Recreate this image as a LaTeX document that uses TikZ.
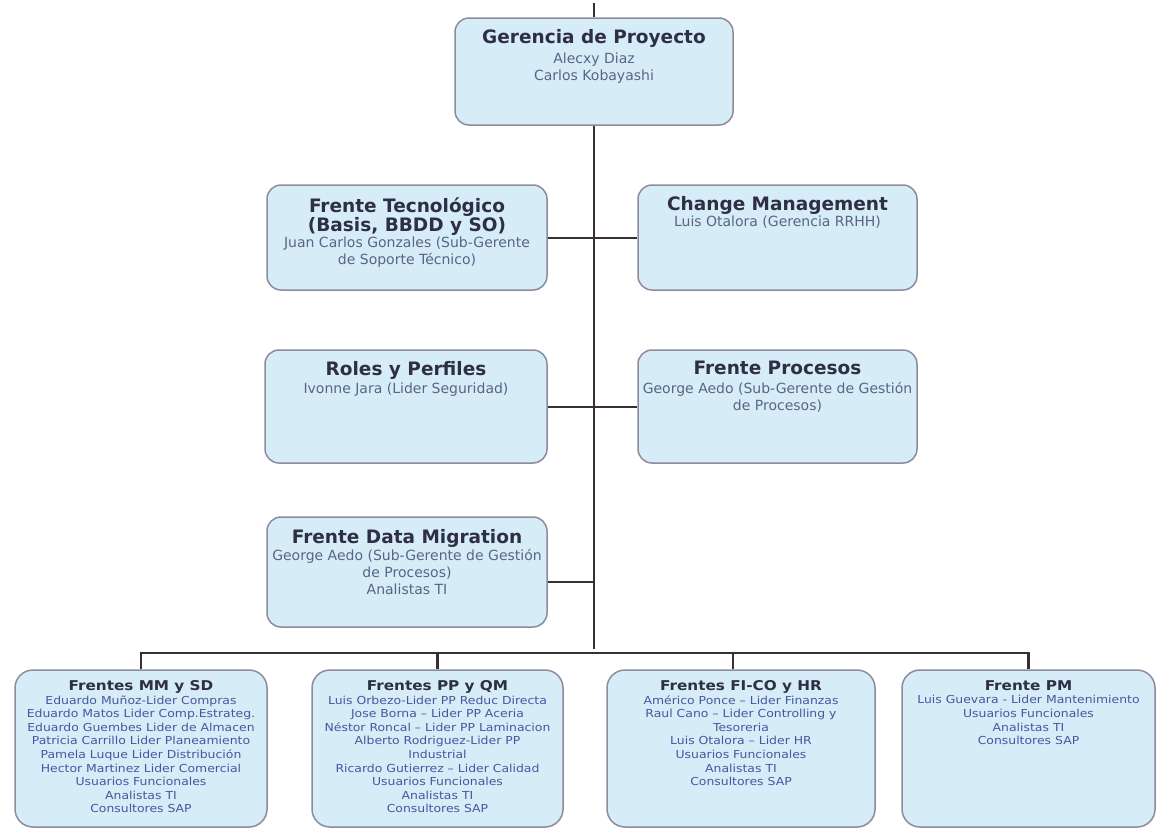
\documentclass[tikz,border=0pt]{standalone}
\usepackage{fontspec}
\setmainfont{DejaVu Sans}
\newfontfamily\widefont[FakeStretch=1.13]{DejaVu Sans}
\definecolor{boxfill}{HTML}{D6EDF8}
\definecolor{boxline}{HTML}{8C8C9C}
\definecolor{titlec}{HTML}{2E2E45}
\definecolor{bodyc}{HTML}{5A6485}
\definecolor{smallc}{HTML}{4A55A0}
\definecolor{linkc}{HTML}{382E36}
\newcommand\ttl[1]{{\fontsize{18.5}{20}\selectfont\bfseries\color{titlec}#1}}
\newcommand\sttl[1]{{\fontsize{13.5}{15}\selectfont\bfseries\color{titlec}#1}}
\tikzset{
  unit/.style={rectangle, rounded corners=14pt, draw=boxline, line width=1.5pt,
    fill=boxfill, inner sep=0pt},
  team/.style={unit, rounded corners=18pt, minimum height=157pt},
  txt/.style={anchor=north, align=center, inner sep=0pt, text=bodyc,
    font=\fontsize{14}{17}\selectfont},
  stxt/.style={anchor=north, align=center, inner sep=0pt, text=smallc,
    font=\widefont\fontsize{11}{13.6}\selectfont},
  link/.style={draw=linkc, line width=2pt},
  bus/.style={draw=linkc, line width=2.6pt}
}
\begin{document}
\begin{tikzpicture}[x=1pt,y=-1pt]
\useasboundingbox (0,0) rectangle (1164,830);
\fill[white] (0,0) rectangle (1164,830);

% management and support fronts
\node[unit, minimum width=278pt, minimum height=107pt] (ger) at (594,71.5) {};
\node[unit, minimum width=280pt, minimum height=105pt] (tec) at (407,237.5) {};
\node[unit, minimum width=279pt, minimum height=105pt] (chg) at (777.5,237.5) {};
\node[unit, minimum width=282pt, minimum height=113pt] (rol) at (406,406.5) {};
\node[unit, minimum width=279pt, minimum height=113pt] (pro) at (777.5,406.5) {};
\node[unit, minimum width=280pt, minimum height=110pt] (dat) at (407,572) {};

% functional fronts
\node[team, minimum width=252pt] (mm) at (141,748.5) {};
\node[team, minimum width=251pt] (pp) at (437.5,748.5) {};
\node[team, minimum width=268pt] (fi) at (741,748.5) {};
\node[team, minimum width=253pt] (pm) at (1028.5,748.5) {};

% texts
\node[txt] (gerT) at ([yshift=-12pt]ger.north)
  {\ttl{Gerencia de Proyecto}\\[3pt] Alecxy Diaz\\ Carlos Kobayashi};
\node[txt] (tecT) at ([yshift=-13pt]tec.north)
  {\ttl{Frente Tecnológico}\\ \ttl{(Basis, BBDD y SO)}\\[-1pt]
   Juan Carlos Gonzales (Sub-Gerente\\ de Soporte Técnico)};
\node[txt] (chgT) at ([yshift=-12pt]chg.north)
  {\ttl{Change Management}\\[-1pt] Luis Otalora (Gerencia RRHH)};
\node[txt] (rolT) at ([yshift=-12pt]rol.north)
  {\ttl{Roles y Perfiles}\\[1pt] Ivonne Jara (Lider Seguridad)};
\node[txt] (proT) at ([yshift=-12pt]pro.north)
  {\ttl{Frente Procesos}\\[2pt] George Aedo (Sub-Gerente de Gestión\\ de Procesos)};
\node[txt] (datT) at ([yshift=-13pt]dat.north)
  {\ttl{Frente Data Migration}\\[0pt] George Aedo (Sub-Gerente de Gestión\\ de Procesos)\\ Analistas TI};

\node[stxt] (mmT) at ([yshift=-11pt]mm.north)
  {\sttl{Frentes MM y SD}\\ Eduardo Muñoz-Lider Compras\\ Eduardo Matos Lider Comp.Estrateg.\\
   Eduardo Guembes Lider de Almacen\\ Patricia Carrillo Lider Planeamiento\\
   Pamela Luque Lider Distribución\\ Hector Martinez Lider Comercial\\
   Usuarios Funcionales\\ Analistas TI\\ Consultores SAP};
\node[stxt] (ppT) at ([yshift=-11pt]pp.north)
  {\sttl{Frentes PP y QM}\\ Luis Orbezo-Lider PP Reduc Directa\\ Jose Borna – Lider PP Aceria\\
   Néstor Roncal – Lider PP Laminacion\\ Alberto Rodriguez-Lider PP\\ Industrial\\
   Ricardo Gutierrez – Lider Calidad\\ Usuarios Funcionales\\ Analistas TI\\ Consultores SAP};
\node[stxt] (fiT) at ([yshift=-11pt]fi.north)
  {\sttl{Frentes FI-CO y HR}\\ Américo Ponce – Lider Finanzas\\ Raul Cano – Lider Controlling y\\
   Tesoreria\\ Luis Otalora – Lider HR\\ Usuarios Funcionales\\ Analistas TI\\ Consultores SAP};
\node[stxt] (pmT) at ([yshift=-11pt]pm.north)
  {\sttl{Frente PM}\\ Luis Guevara - Lider Mantenimiento\\ Usuarios Funcionales\\
   Analistas TI\\ Consultores SAP};

% connectors
\coordinate (top) at (594,3);
\coordinate (busy) at (0,653);
\draw[link] (top) -- (ger.north);
\draw[link] (ger.south) -- ([yshift=4pt]ger.south |- busy);
\draw[link] (tec.east) -- (chg.west);
\draw[link] (rol.east) -- (pro.west);
\draw[link] ([yshift=-10pt]dat.east) -- ([yshift=-10pt]dat.east -| ger.south);
\draw[bus] (mm.north) -- (mm.north |- busy) -- (pm.north |- busy) -- (pm.north);
\draw[bus] (pp.north) -- (pp.north |- busy);
\draw[bus] ([xshift=-8pt]fi.north) -- ([xshift=-8pt]fi.north |- busy);
\end{tikzpicture}
\end{document}
